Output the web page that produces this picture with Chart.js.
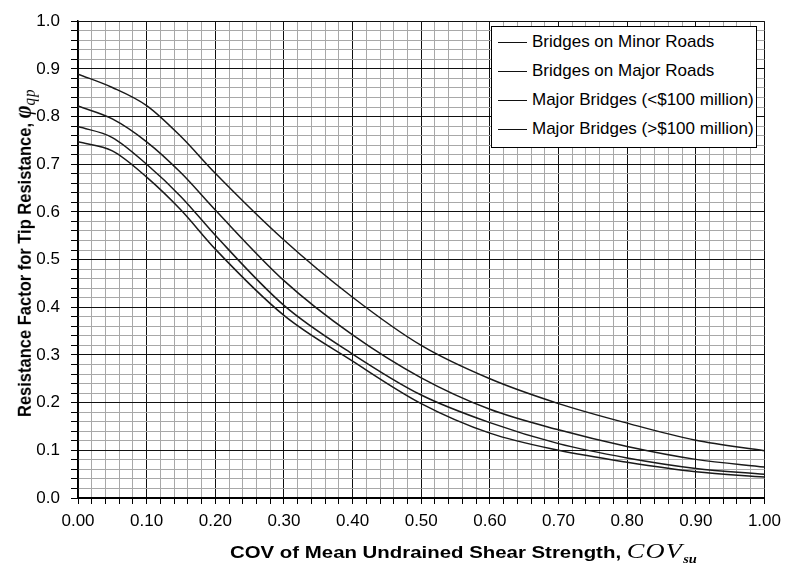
<!DOCTYPE html>
<html>
<head>
<meta charset="utf-8">
<script src="https://cdn.jsdelivr.net/npm/chart.js@4.4.1/dist/chart.umd.min.js"></script>
<style>
    body { margin: 0; background: #fff; }
    #wrap { position: relative; width: 788px; height: 569px; overflow: hidden; }
    #grafico { position: absolute; left: 0; top: 0; }
    .leyenda {
        position: absolute; left: 491px; top: 26px; width: 266px; height: 122px;
        box-sizing: border-box; border: 1px solid #000; background: #fff;
        font: 17px "Liberation Sans", Arial, sans-serif; color: #000;
    }
    .leyenda .fila { position: absolute; left: 6px; height: 20px; display: flex; align-items: center; white-space: nowrap; }
    .leyenda .linea { width: 29px; border-top: 1px solid #111; margin-right: 5px; }
    .titulo-x {
        position: absolute; left: 230px; top: 540px; white-space: nowrap;
        line-height: 17px; transform: scaleX(1.2); transform-origin: 0 0;
    }
    .titulo-y {
        position: absolute; left: 11px; top: 417px; white-space: nowrap;
        line-height: 16px; transform: rotate(-90deg) scaleY(1.1); transform-origin: 0 0;
    }
    .negrita { font: bold 17px "Liberation Sans", Arial, sans-serif; }
    .serif-it { font: italic 22px "Liberation Serif", "Times New Roman", serif; letter-spacing: 1px; line-height: 1; }
    .sub { font: italic bold 12px "Liberation Serif", serif; position: relative; top: 5px; line-height: 1; }
</style>
</head>
<body>
<div id="wrap">
    <canvas id="grafico" width="788" height="569"></canvas>
    <div class="leyenda" id="leyenda"></div>
    <div class="titulo-x"><span class="negrita">COV of Mean Undrained Shear Strength, </span><span class="serif-it">COV</span><span class="sub">su</span></div>
    <div class="titulo-y"><span class="negrita" style="font-size:16.5px">Resistance Factor for Tip Resistance, </span><span style="font: italic bold 22px 'Liberation Serif', serif; line-height:1">φ</span><span class="sub" style="font-size:15px; top:4px; font-weight:normal; letter-spacing:1px">qp</span></div>
</div>

<script>
// Valores (COV de la resistencia al corte no drenada)
const covSu = [0, 0.05, 0.10, 0.15, 0.20, 0.30, 0.40, 0.50, 0.60, 0.70, 0.80, 0.90, 1.00];

const puentesViasMenores = [0.889, 0.861, 0.823, 0.758, 0.681, 0.541, 0.421, 0.320, 0.250, 0.198, 0.157, 0.121, 0.099];
const puentesViasMayores = [0.822, 0.795, 0.747, 0.682, 0.604, 0.456, 0.342, 0.252, 0.186, 0.143, 0.108, 0.081, 0.065];
const puentesMayoresMenos100 = [0.779, 0.756, 0.700, 0.632, 0.551, 0.404, 0.302, 0.216, 0.158, 0.114, 0.084, 0.062, 0.050];
const puentesMayoresMas100 = [0.747, 0.728, 0.673, 0.604, 0.522, 0.383, 0.287, 0.198, 0.136, 0.100, 0.075, 0.055, 0.044];

const etiquetasSeries = [
    'Bridges on Minor Roads',
    'Bridges on Major Roads',
    'Major Bridges (<$100 million)',
    'Major Bridges (>$100 million)'
];

// Rejilla: líneas principales cada 0.1 y secundarias cada 0.02
const ejeMin = 0;
const ejeMax = 1;
const pasoMenor = 0.02;

function esPrincipal(v) {
    return Math.abs(v * 10 - Math.round(v * 10)) < 1e-6;
}

function ticksRejilla() {
    const ticks = [];
    const n = Math.round((ejeMax - ejeMin) / pasoMenor);
    for (let i = 0; i <= n; i++) {
        ticks.push({ value: +(ejeMin + i * pasoMenor).toFixed(4) });
    }
    return ticks;
}

const fuenteTicks = { family: '"Liberation Sans", Arial, sans-serif', size: 17 };

const series = [puentesViasMenores, puentesViasMayores, puentesMayoresMenos100, puentesMayoresMas100];

const datasets = series.map((valores, i) => ({
    label: etiquetasSeries[i],
    data: covSu.map((x, j) => ({ x: x, y: valores[j] })),
    borderColor: '#1a1a1a',
    borderWidth: 1.5,
    pointRadius: 0,
    fill: false,
    cubicInterpolationMode: 'monotone'
}));

const ctx = document.getElementById('grafico').getContext('2d');

new Chart(ctx, {
    type: 'line',
    data: { datasets: datasets },
    options: {
        responsive: false,
        animation: false,
        layout: { padding: { top: 15, right: 20, left: 0, bottom: 0 } },
        plugins: {
            legend: { display: false },
            tooltip: { enabled: false }
        },
        scales: {
            x: {
                type: 'linear',
                min: ejeMin,
                max: ejeMax,
                afterBuildTicks: (scale) => { scale.ticks = ticksRejilla(); },
                afterFit: (scale) => { scale.height = 71; },
                ticks: {
                    autoSkip: false,
                    maxRotation: 0,
                    padding: 7,
                    color: '#000',
                    font: fuenteTicks,
                    callback: (v) => esPrincipal(v) ? v.toFixed(2) : ''
                },
                grid: {
                    color: (c) => esPrincipal(c.tick.value) ? '#111' : '#a8a8a8',
                    lineWidth: 1,
                    tickColor: '#000',
                    tickLength: 6
                },
                border: { display: true, color: '#000', width: 2 }
            },
            y: {
                type: 'linear',
                min: ejeMin,
                max: ejeMax,
                afterBuildTicks: (scale) => { scale.ticks = ticksRejilla(); },
                afterFit: (scale) => { scale.width = 78; },
                ticks: {
                    autoSkip: false,
                    padding: 11,
                    color: '#000',
                    font: fuenteTicks,
                    callback: (v) => esPrincipal(v) ? v.toFixed(1) : ''
                },
                grid: {
                    color: (c) => esPrincipal(c.tick.value) ? '#111' : '#a8a8a8',
                    lineWidth: 1,
                    tickColor: '#000',
                    tickLength: 7
                },
                border: { display: true, color: '#000', width: 1.5 }
            }
        }
    }
});

// Leyenda en HTML con recuadro, como en la figura original
const leyenda = document.getElementById('leyenda');
etiquetasSeries.forEach((texto, i) => {
    const fila = document.createElement('div');
    fila.className = 'fila';
    fila.style.top = (5 + i * 29) + 'px';
    fila.innerHTML = '<span class="linea"></span><span></span>';
    fila.lastChild.textContent = texto;
    leyenda.appendChild(fila);
});
</script>
</body>
</html>
